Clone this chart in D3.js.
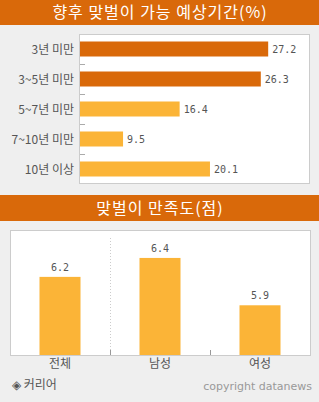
<!DOCTYPE html>
<html><head><meta charset="utf-8">
<script src="https://cdn.jsdelivr.net/npm/d3@7"></script>
<style>
html,body{margin:0;padding:0;background:#efefef;}
svg{display:block;}
text{font-family:"Noto Sans CJK KR","Noto Sans",sans-serif;}
</style></head>
<body>
<svg id="c" width="319" height="402"></svg>
<script>
const title1 = "향후 맞벌이 가능 예상기간(%)";
const periods = ["3년 미만","3~5년 미만","5~7년 미만","7~10년 미만","10년 이상"];
const periodValues = [27.2, 26.3, 16.4, 9.5, 20.1];
const periodHighlight = [true, true, false, false, false];

const title2 = "맞벌이 만족도(점)";
const groups = ["전체","남성","여성"];
const groupValues = [6.2, 6.4, 5.9];

const source = "◈ 커리어";
const credit = "copyright datanews";

const DARK = "#d9690a", LIGHT = "#fbb437", TXT = "#555";
const svg = d3.select("#c");

// ---------- header 1 ----------
svg.append("rect").attr("x",0).attr("y",0).attr("width",319).attr("height",25).attr("fill",DARK);
svg.append("text").attr("x",160).attr("y",18).attr("text-anchor","middle")
  .attr("fill","#fff").attr("font-size",16).attr("letter-spacing",1).text(title1);

// ---------- chart 1 ----------
const p1 = {l:80, r:310, t:34, b:184};
svg.append("rect").attr("x",p1.l-0.5).attr("y",p1.t+0.5).attr("width",p1.r-p1.l).attr("height",p1.b-p1.t-1)
  .attr("fill","#fff").attr("stroke","#ccc");
const y1 = d3.scaleBand().domain(periods).range([p1.t,p1.b]).paddingInner(0.5).paddingOuter(0.25);
const x1 = d3.scaleLinear().domain([4.25,32.3]).range([p1.l,p1.r]);

const step1 = y1.step();
svg.append("g").selectAll("line").data(periods.slice(1)).join("line")
  .attr("x1",p1.l).attr("x2",p1.l+5)
  .attr("y1",(d)=>y1(d)-y1.paddingInner()*step1/2 +0.5)
  .attr("y2",(d)=>y1(d)-y1.paddingInner()*step1/2 +0.5)
  .attr("stroke","#aaa");

svg.append("g").selectAll("rect").data(periods).join("rect")
  .attr("x",p1.l).attr("y",d=>y1(d))
  .attr("width",(d,i)=>x1(periodValues[i])-p1.l).attr("height",y1.bandwidth())
  .attr("fill",(d,i)=>periodHighlight[i]?DARK:LIGHT);

svg.append("g").selectAll("text").data(periods).join("text")
  .attr("x",p1.l-6).attr("y",d=>y1(d)+y1.bandwidth()/2+4.5)
  .attr("text-anchor","end").attr("fill",TXT).attr("font-size",12).text(d=>d);

svg.append("g").selectAll("text").data(periods).join("text")
  .attr("x",(d,i)=>x1(periodValues[i])+4).attr("y",d=>y1(d)+y1.bandwidth()/2+4)
  .attr("fill",TXT).attr("font-size",10).style("font-family","'DejaVu Sans Mono',monospace")
  .text((d,i)=>periodValues[i].toFixed(1));

// ---------- header 2 ----------
svg.append("rect").attr("x",0).attr("y",195).attr("width",319).attr("height",26).attr("fill",DARK);
svg.append("text").attr("x",160).attr("y",214).attr("text-anchor","middle")
  .attr("fill","#fff").attr("font-size",16).attr("letter-spacing",1).text(title2);

// ---------- chart 2 ----------
const p2 = {l:10, r:310, t:230, b:355};
svg.append("rect").attr("x",p2.l+0.5).attr("y",p2.t+0.5).attr("width",p2.r-p2.l).attr("height",p2.b-p2.t)
  .attr("fill","#fff").attr("stroke","#ccc");
const x2 = d3.scaleBand().domain(groups).range([p2.l,p2.r]).paddingInner(0.59).paddingOuter(0.295);
const y2 = d3.scaleLinear().domain([5.375,6.695]).range([p2.b,p2.t]);

const step2 = x2.step();
const bounds = groups.slice(1).map(g=>x2(g)-x2.paddingInner()*step2/2);
svg.append("line").attr("x1",Math.round(bounds[0])+0.5).attr("x2",Math.round(bounds[0])+0.5)
  .attr("y1",238).attr("y2",p2.b-5).attr("stroke","#ccc").attr("stroke-dasharray","1,2");
svg.append("g").selectAll("line").data(bounds).join("line")
  .attr("x1",d=>Math.round(d)+0.5).attr("x2",d=>Math.round(d)+0.5)
  .attr("y1",p2.b-5).attr("y2",p2.b).attr("stroke","#999");

svg.append("g").selectAll("rect").data(groups).join("rect")
  .attr("x",d=>x2(d)).attr("y",(d,i)=>y2(groupValues[i]))
  .attr("width",x2.bandwidth()).attr("height",(d,i)=>p2.b-y2(groupValues[i]))
  .attr("fill",LIGHT);

svg.append("g").selectAll("text").data(groups).join("text")
  .attr("x",d=>x2(d)+x2.bandwidth()/2).attr("y",(d,i)=>y2(groupValues[i])-6)
  .attr("text-anchor","middle").attr("fill",TXT).attr("font-size",10)
  .style("font-family","'DejaVu Sans Mono',monospace")
  .text((d,i)=>groupValues[i].toFixed(1));

svg.append("g").selectAll("text").data(groups).join("text")
  .attr("x",d=>x2(d)+x2.bandwidth()/2).attr("y",368)
  .attr("text-anchor","middle").attr("fill",TXT).attr("font-size",12).text(d=>d);

// ---------- footer ----------
svg.append("text").attr("x",12).attr("y",389).attr("fill",TXT).attr("font-size",12).text(source);
svg.append("text").attr("x",312).attr("y",390).attr("text-anchor","end").attr("fill","#999")
  .attr("font-size",11).style("font-family","'DejaVu Sans',sans-serif").text(credit);
</script>
</body></html>
